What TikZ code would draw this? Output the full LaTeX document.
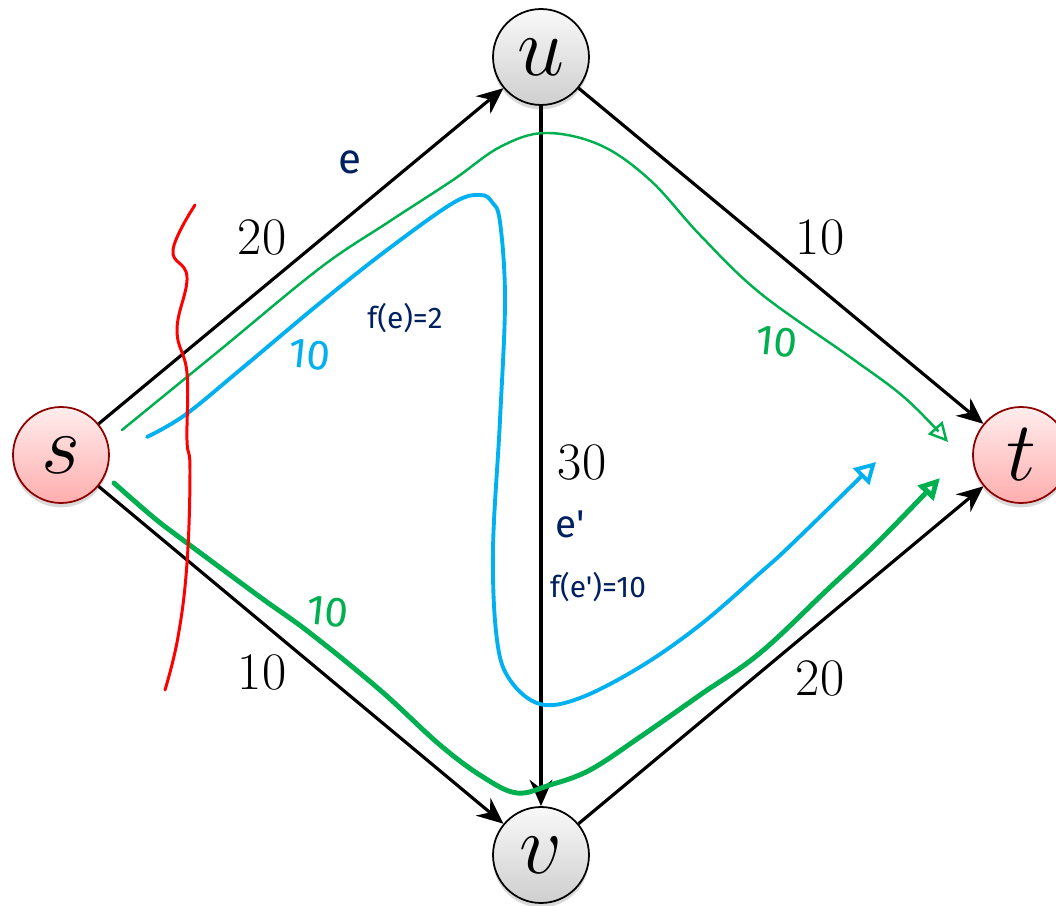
\RequirePackage{fix-cm}
\documentclass[tikz,border=0pt]{standalone}
\usepackage{fontspec}
\newfontfamily\hand{Fira Sans}
\usetikzlibrary{arrows.meta, shadows}
\definecolor{navy}{HTML}{002060}
\definecolor{flowgreen}{HTML}{00B050}
\definecolor{flowblue}{HTML}{00B0F0}
\definecolor{cutred}{HTML}{FF0000}

\begin{document}
\begin{tikzpicture}[x=0.02cm, y=-0.02cm,
  vertex/.style={circle, draw=black, line width=1pt, minimum size=1.92cm, inner sep=0pt,
    top color=gray!5, bottom color=gray!38,
    drop shadow={opacity=0.3, shadow xshift=0pt, shadow yshift=-2.5pt},
    font=\fontsize{48}{48}\selectfont},
  terminal/.style={vertex, draw=red!55!black, top color=red!7, bottom color=red!32},
  edge/.style={line width=1.8pt, -{Stealth[length=15pt, width=13pt, inset=5pt]}},
  capacity/.style={font=\fontsize{30}{30}\selectfont},
  note/.style={text=navy, font=\hand\fontsize{17}{17}\selectfont},
  handnum/.style={font=\hand\fontsize{24}{24}\selectfont, rotate=-6}
]
  \useasboundingbox (0,0) rectangle (1056,906);

  % Vertices
  \node[terminal] (s) at (61,455) {$s$};
  \node[vertex] (u) at (541,57) {$u$};
  \node[vertex] (v) at (541,855) {$v$};
  \node[terminal] (t) at (1021,455) {$t$};

  % Edges
  \draw[edge] (s) -- (u);
  \draw[edge] (u) -- (t);
  \draw[edge] (s) -- (v);
  \draw[edge] (v) -- (t);
  \draw[edge] (u) -- (v);

  % Capacities
  \node[capacity] (cap su) at (262,237) {20};
  \node[capacity] (cap ut) at (820,237) {10};
  \node[capacity] (cap uv) at (582,462) {30};
  \node[capacity] (cap sv) at (262,672) {10};
  \node[capacity] (cap vt) at (820,678) {20};

  % Flow paths
  \draw[flowgreen, line width=1.4pt, line cap=round,
        -{Triangle[open, length=11pt, width=11pt]}]
    plot[smooth, tension=0.6] coordinates {(122,430) (220,350) (320,268) (387,223)
      (453,180) (500,147) (545,133) (600,145) (650,180) (700,235) (760,293)
      (850,357) (905,398) (948,442)};
  \draw[flowblue, line width=2.2pt, line cap=round,
        -{Triangle[open, length=12pt, width=13pt]}]
    plot[smooth, tension=0.6] coordinates {(147,437) (185,415) (240,370) (320,303) (387,250)
      (453,203) (480,195) (492,202) (500,222) (505,300) (500,420) (493,550)
      (497,640) (510,680) (540,704) (580,698) (640,667) (700,625) (760,573)
      (793,543) (876,462)};
  \draw[flowgreen, line width=2.8pt, line cap=round,
        -{Triangle[open, length=12pt, width=12pt]}]
    plot[smooth, tension=0.6] coordinates {(114,483) (153,517) (183,540) (260,597) (310,633)
      (380,690) (440,745) (483,777) (517,793) (550,785) (590,770) (640,737)
      (700,695) (760,653) (827,590) (880,540) (940,478)};

  % Cut
  \draw[cutred, line width=1.7pt, line cap=round]
    plot[smooth, tension=0.7] coordinates {(195,205) (173,250) (187,277) (177,330) (187,373)
      (187,440) (190,470) (187,563) (178,637) (165,690)};

  % Annotations
  \node[note, font=\hand\fontsize{24}{24}\selectfont] (lbl e) at (350,162) {e};
  \node[note] (lbl fe) at (405,318) {f(e)=2};
  \node[note, font=\hand\fontsize{22}{22}\selectfont] (lbl e2) at (570,524) {e'};
  \node[note] (lbl fe2) at (598,587) {f(e')=10};
  \node[handnum, text=flowblue] (flow su) at (310,355) {10};
  \node[handnum, text=flowgreen] (flow ut) at (777,342) {10};
  \node[handnum, text=flowgreen] (flow sv) at (328,612) {10};
\end{tikzpicture}
\end{document}
